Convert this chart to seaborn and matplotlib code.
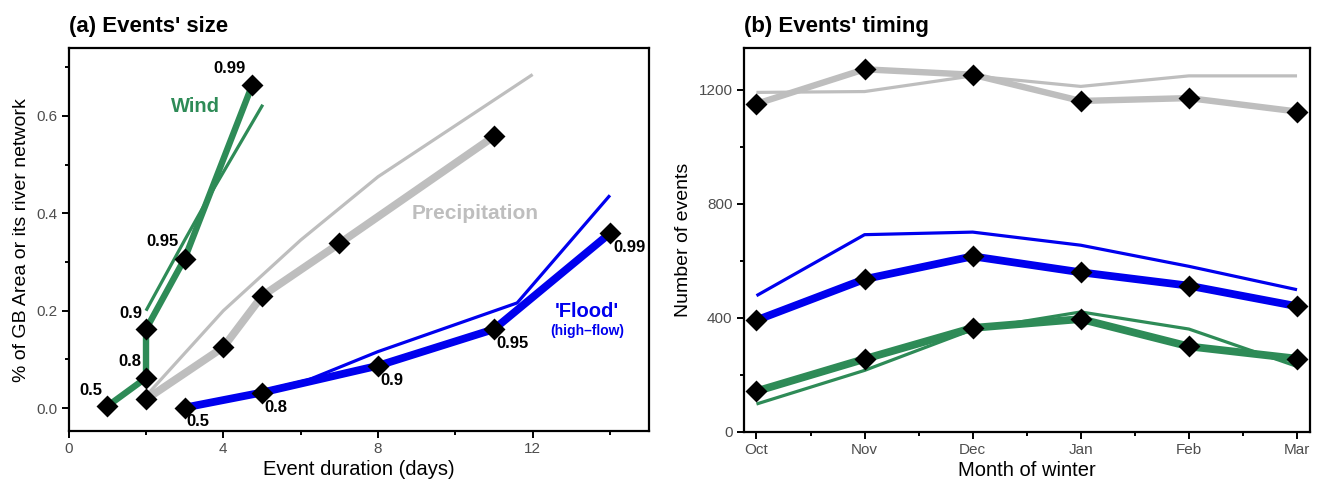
import matplotlib
matplotlib.use("Agg")
import matplotlib.pyplot as plt
from matplotlib.ticker import MultipleLocator
import seaborn as sns
import pandas as pd

GREEN = "#2E8B57"
GREY = "#BEBEBE"
BLUE = "#0000EE"

# ---- panel (a): event size vs duration, thresholds 0.5..0.99 ----
thresholds = ["0.5", "0.8", "0.9", "0.95", "0.99"]

wind_dur = [1.0, 2.0, 2.0, 3.0, 4.75]
wind_size = [0.004, 0.062, 0.162, 0.307, 0.664]
wind_thin_dur = [2.0, 3.0, 3.6, 5.02]
wind_thin_size = [0.200, 0.345, 0.430, 0.623]

precip_dur = [2.0, 4.0, 5.0, 7.0, 11.0]
precip_size = [0.018, 0.125, 0.230, 0.338, 0.558]
precip_thin_dur = [2.0, 4.0, 6.0, 8.0, 12.0]
precip_thin_size = [0.025, 0.200, 0.345, 0.475, 0.685]

flood_dur = [3.0, 5.0, 8.0, 11.0, 14.0]
flood_size = [0.001, 0.032, 0.087, 0.162, 0.359]
flood_thin_dur = [3.0, 5.0, 6.2, 8.0, 11.6, 14.0]
flood_thin_size = [0.002, 0.035, 0.058, 0.116, 0.216, 0.437]

# ---- panel (b): number of events per month ----
months = ["Oct", "Nov", "Dec", "Jan", "Feb", "Mar"]
precip_n = [1151, 1272, 1253, 1161, 1171, 1124]
precip_n_thin = [1191, 1194, 1249, 1212, 1249, 1249]
flood_n = [392, 536, 616, 560, 513, 441]
flood_n_thin = [478, 692, 701, 655, 581, 499]
wind_n = [143, 256, 365, 396, 300, 257]
wind_n_thin = [98, 216, 359, 421, 361, 230]

sns.set_theme(style="ticks")
plt.rcParams["font.family"] = ["Liberation Sans", "DejaVu Sans"]
plt.rcParams["text.color"] = "black"
plt.rcParams["axes.labelcolor"] = "black"

fig = plt.figure(figsize=(13.21, 4.87), dpi=100)
ax_a = fig.add_axes([0.052, 0.115, 0.439, 0.786])
ax_b = fig.add_axes([0.563, 0.113, 0.4285, 0.788])

THICK, THIN = 4.6, 2.3
MS = 125


def line(ax, x, y, color, lw):
    df = pd.DataFrame({"x": x, "y": y})
    sns.lineplot(data=df, x="x", y="y", ax=ax, color=color, linewidth=lw,
                 estimator=None, sort=False, zorder=2, solid_capstyle="butt")


def diamonds(ax, x, y):
    df = pd.DataFrame({"x": x, "y": y})
    sns.scatterplot(data=df, x="x", y="y", ax=ax, marker="D", s=MS,
                    color="black", linewidth=0, zorder=5)


# panel (a)
line(ax_a, precip_thin_dur, precip_thin_size, GREY, THIN)
line(ax_a, precip_dur, precip_size, GREY, THICK + 1)
line(ax_a, flood_thin_dur, flood_thin_size, BLUE, THIN)
line(ax_a, flood_dur, flood_size, BLUE, THICK + 1)
line(ax_a, wind_thin_dur, wind_thin_size, GREEN, THIN)
line(ax_a, wind_dur, wind_size, GREEN, THICK)
diamonds(ax_a, wind_dur, wind_size)
diamonds(ax_a, precip_dur, precip_size)
diamonds(ax_a, flood_dur, flood_size)

lab = dict(fontsize=12, fontweight="bold", color="black", ha="center", va="center")
wind_off = [(-0.42, 0.033), (-0.43, 0.033), (-0.40, 0.033), (-0.57, 0.035), (-0.58, 0.034)]
for t, x, y, (dx, dy) in zip(thresholds, wind_dur, wind_size, wind_off):
    ax_a.text(x + dx, y + dy, t, **lab)
flood_off = [(0.35, -0.029), (0.35, -0.031), (0.36, -0.031), (0.48, -0.029), (0.5, -0.029)]
for t, x, y, (dx, dy) in zip(thresholds, flood_dur, flood_size, flood_off):
    ax_a.text(x + dx, y + dy, t, **lab)

ax_a.text(3.29, 0.619, "Wind", color=GREEN, fontsize=14.5, fontweight="bold",
          ha="center", va="center")
ax_a.text(10.5, 0.399, "Precipitation", color=GREY, fontsize=15, fontweight="bold",
          ha="center", va="center")
ax_a.text(13.4, 0.199, "'Flood'", color=BLUE, fontsize=14.5, fontweight="bold",
          ha="center", va="center")
ax_a.text(13.4, 0.158, "(high\u2013flow)", color=BLUE, fontsize=10, fontweight="bold",
          ha="center", va="center")

ax_a.set_xlim(0, 15)
ax_a.set_ylim(-0.047, 0.739)
ax_a.xaxis.set_major_locator(MultipleLocator(4))
ax_a.xaxis.set_minor_locator(MultipleLocator(2))
ax_a.yaxis.set_major_locator(MultipleLocator(0.2))
ax_a.yaxis.set_minor_locator(MultipleLocator(0.1))
ax_a.set_yticks([0.0, 0.2, 0.4, 0.6])
ax_a.set_yticklabels(["0.0", "0.2", "0.4", "0.6"])
ax_a.set_xlabel("Event duration (days)", fontsize=14.5, labelpad=3)
ax_a.set_ylabel("% of GB Area or its river network", fontsize=14, labelpad=5)
ax_a.set_title("(a) Events' size", loc="left", fontsize=16, fontweight="bold",
               pad=12)

# panel (b)
xs = list(range(len(months)))
line(ax_b, xs, precip_n_thin, GREY, THIN)
line(ax_b, xs, precip_n, GREY, THICK)
line(ax_b, xs, flood_n_thin, BLUE, THIN)
line(ax_b, xs, flood_n, BLUE, THICK + 1)
line(ax_b, xs, wind_n_thin, GREEN, THIN)
line(ax_b, xs, wind_n, GREEN, THICK + 1)
diamonds(ax_b, xs, precip_n)
diamonds(ax_b, xs, flood_n)
diamonds(ax_b, xs, wind_n)

ax_b.set_xlim(-0.118, 5.118)
ax_b.set_ylim(0, 1346)
ax_b.set_xticks(xs)
ax_b.set_xticklabels(months)
ax_b.set_xticks([i + 0.5 for i in xs[:-1]], minor=True)
ax_b.yaxis.set_major_locator(MultipleLocator(400))
ax_b.yaxis.set_minor_locator(MultipleLocator(200))
ax_b.set_xlabel("Month of winter", fontsize=14.5, labelpad=3)
ax_b.set_ylabel("Number of events", fontsize=14, labelpad=5)
ax_b.set_title("(b) Events' timing", loc="left", fontsize=16, fontweight="bold",
               pad=12)

for ax in (ax_a, ax_b):
    for s in ax.spines.values():
        s.set_visible(True)
        s.set_linewidth(1.6)
        s.set_color("black")
    ax.tick_params(which="major", direction="out", length=5, width=1.4,
                   colors="black", labelcolor="#4D4D4D", labelsize=11, pad=3)
    ax.tick_params(which="minor", direction="out", length=3, width=1.4,
                   colors="black")
    ax.grid(False)

fig.savefig("out.png", dpi=100)
